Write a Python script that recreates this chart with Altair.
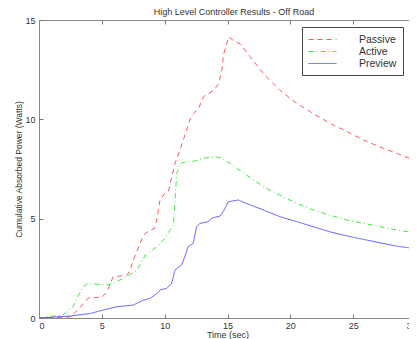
import altair as alt
import pandas as pd

series_names = ["Passive", "Active", "Preview"]
series_colors = ["#ff5a5a", "#40e840", "#5a5aff"]
series_dashes = [[5, 4], [5, 3, 1, 3], [1, 0]]

time_passive = [0, 2.5, 3.3, 3.9, 5.0, 5.4, 5.9, 7.0, 7.25, 7.5, 8.2, 8.45, 8.84, 9.2, 9.37,
                9.63, 10.0, 10.3, 10.56, 10.82, 11.22, 11.48, 11.75, 12.0, 12.3, 12.7, 13.1,
                13.9, 14.3, 14.55, 14.7, 15.1, 15.5, 16.0, 16.8, 17.85, 19.17, 20.5, 21.8,
                23.15, 24.5, 25.8, 27.1, 28.45, 29.8, 30]
passive = [0, 0.05, 0.55, 1.0, 1.05, 1.3, 2.08, 2.15, 2.4, 2.9, 4.0, 4.25, 4.43, 4.5, 4.93,
           5.94, 6.27, 6.36, 7.1, 7.78, 8.45, 8.96, 9.46, 9.96, 10.3, 10.55, 11.15,
           11.45, 11.8, 12.5, 13.3, 14.15, 13.95, 13.8, 13.15, 12.3, 11.47, 10.8, 10.3,
           9.8, 9.38, 8.96, 8.62, 8.29, 7.95, 7.9]

time_active = [0, 1.9, 2.7, 3.5, 3.9, 5.4, 5.9, 6.7, 7.8, 8.45, 8.84, 9.37, 9.9, 10.43,
               10.7, 10.96, 11.22, 11.75, 12.4, 13.07, 14.0, 14.54, 15.2, 16.5, 17.85, 19.17,
               20.5, 21.8, 23.15, 24.5, 25.8, 27.1, 28.45, 29.8, 30]
active = [0, 0.15, 0.57, 1.58, 1.74, 1.66, 1.74, 2.0, 2.4, 3.17, 3.34, 3.59, 3.93, 4.43,
          4.68, 7.28, 7.78, 7.87, 7.9, 8.04, 8.12, 8.04, 7.78, 7.2, 6.61, 6.19,
          5.77, 5.44, 5.18, 4.93, 4.77, 4.6, 4.43, 4.3, 4.28]

time_preview = [0, 2.5, 4.1, 5.1, 6.2, 7.5, 8.3, 8.84, 9.4, 9.63, 10.16, 10.56, 10.82, 11.35,
                11.6, 11.87, 12.27, 12.54, 12.8, 13.47, 13.73, 14.4, 14.66, 15.06, 15.86,
                16.5, 17.85, 19.17, 20.5, 21.8, 23.15, 24.5, 25.8, 27.1, 28.45, 29.8, 30]
preview = [0, 0.1, 0.23, 0.4, 0.57, 0.65, 0.9, 0.99, 1.24, 1.41, 1.49, 1.74, 2.42, 2.67,
           3.08, 3.59, 3.76, 4.6, 4.76, 4.85, 5.02, 5.13, 5.35, 5.85, 5.94,
           5.77, 5.44, 5.1, 4.85, 4.6, 4.34, 4.13, 3.96, 3.79, 3.62, 3.5, 3.48]

x_ticks = [0, 5, 10, 15, 20, 25, 30]
y_ticks = [0, 5, 10, 15]

rows = []
for name, ts, vs in [("Passive", time_passive, passive),
                     ("Active", time_active, active),
                     ("Preview", time_preview, preview)]:
    for i, (t, v) in enumerate(zip(ts, vs)):
        rows.append({"series": name, "t": t, "v": v, "order": i})
df = pd.DataFrame(rows)

FONT = "Liberation Sans"
TXT = "#333333"
FRAME = "#888888"
xs = alt.Scale(domain=[0, 30], range=[0, 377], nice=False, zero=False)
ys = alt.Scale(domain=[0, 15], nice=False, zero=False)

legend = alt.Legend(
    title=None, orient="none", legendX=263, legendY=7,
    symbolType="M-2.5,0H2.5", symbolSize=125, symbolStrokeWidth=1,
    symbolOffset=8, labelFont=FONT, labelFontSize=10.5, labelColor=TXT,
    labelOffset=30, rowPadding=-4, padding=6,
    strokeColor="#444444", fillColor="white",
)
color = alt.Color("series:N", scale=alt.Scale(domain=series_names, range=series_colors),
                  legend=legend)
dash = alt.StrokeDash("series:N", scale=alt.Scale(domain=series_names, range=series_dashes),
                      legend=legend)

base = alt.Chart(df)

lines = base.mark_line(strokeWidth=1, clip=True).encode(
    x=alt.X("t:Q", scale=xs, axis=alt.Axis(
        values=x_ticks, ticks=False, tickSize=0, domain=True, domainColor=FRAME, grid=False,
        labelPadding=3, labelFont=FONT, labelFontSize=9, labelColor=TXT,
        title="Time (sec)", titleFont=FONT, titleFontSize=9, titleFontWeight="normal",
        titleColor=TXT, titlePadding=0)),
    y=alt.Y("v:Q", scale=ys, axis=alt.Axis(
        values=y_ticks, ticks=False, tickSize=0, domain=True, domainColor=FRAME, grid=False,
        labelPadding=4, labelFont=FONT, labelFontSize=9, labelColor=TXT,
        title="Cumulative Absorbed Power (Watts)", titleFont=FONT, titleFontSize=8.5,
        titleFontWeight="normal", titleColor=TXT, titlePadding=1)),
    color=color,
    strokeDash=dash,
    order="order:Q",
)

def tick_axis(vals, orient):
    return alt.Axis(values=vals, orient=orient, offset=-4, tickSize=4, ticks=True,
                    tickColor="#777777", domain=False, labels=False, grid=False, title=None)

ticks_bl = base.mark_line(opacity=0).encode(
    x=alt.X("t:Q", scale=xs, axis=tick_axis(x_ticks, "bottom")),
    y=alt.Y("v:Q", scale=ys, axis=tick_axis(y_ticks, "left")),
    detail="series:N",
)
ticks_top = base.mark_line(opacity=0).encode(
    x=alt.X("t:Q", scale=xs, axis=tick_axis(x_ticks, "top")),
    y=alt.Y("v:Q", scale=ys, axis=None),
    detail="series:N",
)
frame_top = base.mark_line(opacity=0).encode(
    x=alt.X("t:Q", scale=xs, axis=alt.Axis(orient="top", ticks=False, labels=False, grid=False,
                                            domain=True, domainColor=FRAME, title=None)),
    y=alt.Y("v:Q", scale=ys, axis=None),
    detail="series:N",
)

chart = alt.layer(lines, ticks_bl, ticks_top, frame_top).resolve_axis(
    x="independent", y="independent"
).properties(
    width=370, height=298,
    title=alt.TitleParams("High Level Controller Results - Off Road", font=FONT, fontSize=9,
                          fontWeight="normal", color=TXT, offset=3, dx=10, dy=4),
    autosize=alt.AutoSizeParams(type="none"),
    padding={"left": 31, "top": 12, "right": 0, "bottom": 21},
).configure_view(stroke=None).configure(background="white")

chart.save("out.html", embed_options={"renderer": "svg", "actions": False})
